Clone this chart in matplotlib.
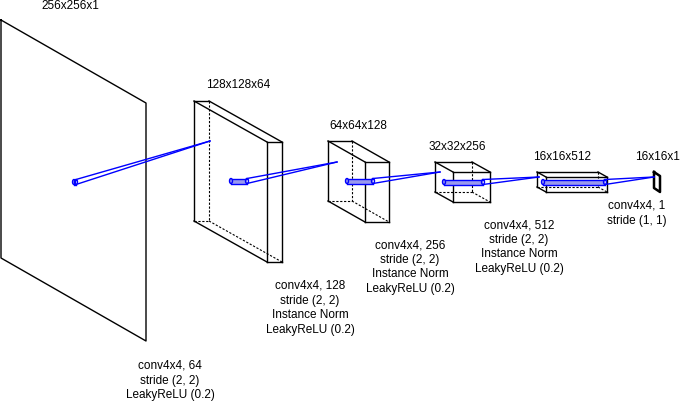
import matplotlib.pyplot as plt
from matplotlib.patches import Ellipse, Rectangle

plt.rcParams['font.family'] = ['Liberation Sans', 'DejaVu Sans']

shape_labels = ["256x256x1", "128x128x64", "64x64x128", "32x32x256", "16x16x512", "16x16x1"]
op_labels = [
    "conv4x4, 64\nstride (2, 2)\nLeakyReLU (0.2)",
    "conv4x4, 128\nstride (2, 2)\nInstance Norm\nLeakyReLU (0.2)",
    "conv4x4, 256\nstride (2, 2)\nInstance Norm\nLeakyReLU (0.2)",
    "conv4x4, 512\nstride (2, 2)\nInstance Norm\nLeakyReLU (0.2)",
    "conv4x4, 1\nstride (1, 1)",
]

# layout in pixels: back face left x, top y, thickness, height, oblique offset dx, dy
boxes = [
    (1, 20, 0, 238, 145, 83),
    (194, 101, 15, 120, 73, 41),
    (328, 141, 24, 60, 37, 21),
    (435, 162, 37, 30, 18, 10),
    (537, 172, 61, 15, 9, 5),
    (654, 172, 0, 16, 6, 4),
]
shape_pos = [(70, 6), (238, 85), (358, 126), (457, 147), (562, 157), (657, 157)]
op_pos = [(170, 360), (310, 280), (410, 239), (519, 219), (637, 200)]
# kernel cylinder (x start, x end, y) and cone apex on next layer
kernels = [
    ((74, 76, 182), (210, 141)),
    ((231, 247, 181), (337, 162)),
    ((347, 373, 181), (440, 172)),
    ((444, 483, 182), (539, 177)),
    ((543, 605, 182), (654, 177)),
]

fig = plt.figure(figsize=(6.81, 4.05), dpi=100)
ax = fig.add_axes([0, 0, 1, 1])
ax.set_xlim(0, 681)
ax.set_ylim(405, 0)
ax.axis('off')

def line(p, q, lw=1, **kw):
    ax.plot([p[0], q[0]], [p[1], q[1]], color='black', lw=lw, **kw)

for x, y, t, h, dx, dy in boxes:
    if t == 0:
        lw = 1 if h > 100 else 1.8
        pts = [(x, y), (x + dx, y + dy), (x + dx, y + dy + h), (x, y + h), (x, y)]
        ax.plot([p[0] for p in pts], [p[1] for p in pts], color='black', lw=lw)
        continue
    btl, btr, bbr, bbl = (x, y), (x + t, y), (x + t, y + h), (x, y + h)
    f = lambda p: (p[0] + dx, p[1] + dy)
    # hidden edges
    for a, b in [(btr, bbr), (bbl, bbr), (bbr, f(bbr))]:
        line(a, b, ls=(0, (2, 1.5)), lw=0.8)
    for a, b in [(btl, btr), (btl, bbl), (btl, f(btl)), (btr, f(btr)), (bbl, f(bbl)),
                 (f(btl), f(btr)), (f(btr), f(bbr)), (f(bbr), f(bbl)), (f(bbl), f(btl))]:
        line(a, b)

for (x0, x1, y), (axp, ayp) in kernels:
    r = 2.5
    ax.add_patch(Rectangle((x0, y - r), x1 - x0, 2 * r, facecolor='#9999ee', edgecolor='none', zorder=3))
    ax.plot([x0, x1], [y - r, y - r], color='blue', lw=1, zorder=4)
    ax.plot([x0, x1], [y + r, y + r], color='blue', lw=1, zorder=4)
    ax.add_patch(Ellipse((x0, y), 3, 2 * r, facecolor='#9999ee', edgecolor='blue', lw=1, zorder=4))
    ax.add_patch(Ellipse((x1, y), 3, 2 * r, facecolor='none', edgecolor='blue', lw=1, zorder=4))
    ax.plot([x1, axp], [y - r, ayp], color='blue', lw=1, zorder=4)
    ax.plot([x1, axp], [y + r, ayp], color='blue', lw=1, zorder=4)

for s, (x, y) in zip(shape_labels, shape_pos):
    ax.text(x, y, s, ha='center', va='center', fontsize=8.5)
for s, (x, y) in zip(op_labels, op_pos):
    ax.text(x, y, s, ha='center', va='top', fontsize=8.5, linespacing=1.3)

fig.savefig('out.png', dpi=100)
